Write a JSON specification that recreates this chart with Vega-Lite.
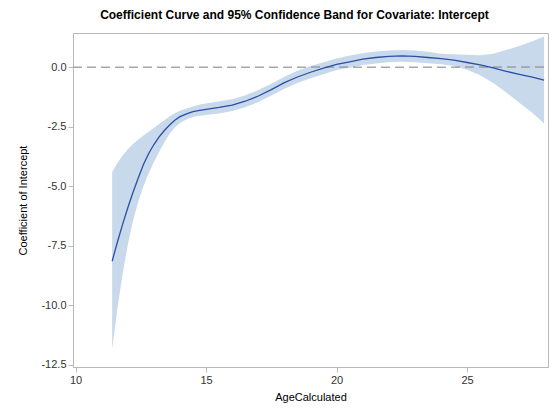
{
  "$schema": "https://vega.github.io/schema/vega-lite/v6.json",
  "width": 475,
  "height": 334,
  "autosize": {"type": "none"},
  "padding": {"left": 73, "top": 33, "right": 5, "bottom": 48},
  "background": "white",
  "title": {
    "text": "Coefficient Curve and 95% Confidence Band for Covariate: Intercept",
    "font": "Liberation Sans",
    "fontSize": 12,
    "fontWeight": "bold",
    "color": "#000000",
    "anchor": "middle",
    "dx": -16,
    "offset": 11
  },
  "config": {
    "view": {"stroke": "#b8b8b8", "strokeWidth": 1},
    "font": "Liberation Sans",
    "axis": {
      "labelFont": "Liberation Sans",
      "titleFont": "Liberation Sans",
      "labelFontSize": 11,
      "titleFontSize": 11,
      "labelColor": "#333333",
      "titleColor": "#000000",
      "titleFontWeight": "normal",
      "domainColor": "#b8b8b8",
      "tickColor": "#b8b8b8",
      "tickSize": 5,
      "grid": false
    }
  },
  "data": {
    "values": [
      {"age": 11.40, "est": -8.15, "lo": -11.85, "hi": -4.40},
      {"age": 11.60, "est": -7.35, "lo": -10.15, "hi": -4.02},
      {"age": 11.80, "est": -6.60, "lo": -8.70, "hi": -3.70},
      {"age": 12.00, "est": -5.90, "lo": -7.45, "hi": -3.44},
      {"age": 12.20, "est": -5.25, "lo": -6.45, "hi": -3.22},
      {"age": 12.40, "est": -4.65, "lo": -5.65, "hi": -3.03},
      {"age": 12.60, "est": -4.08, "lo": -5.00, "hi": -2.86},
      {"age": 12.80, "est": -3.62, "lo": -4.45, "hi": -2.70},
      {"age": 13.00, "est": -3.24, "lo": -3.98, "hi": -2.55},
      {"age": 13.20, "est": -2.92, "lo": -3.55, "hi": -2.38},
      {"age": 13.40, "est": -2.65, "lo": -3.15, "hi": -2.22},
      {"age": 13.60, "est": -2.42, "lo": -2.80, "hi": -2.05},
      {"age": 13.80, "est": -2.22, "lo": -2.52, "hi": -1.92},
      {"age": 14.00, "est": -2.07, "lo": -2.33, "hi": -1.82},
      {"age": 14.25, "est": -1.95, "lo": -2.18, "hi": -1.72},
      {"age": 14.50, "est": -1.86, "lo": -2.08, "hi": -1.64},
      {"age": 14.75, "est": -1.80, "lo": -2.03, "hi": -1.56},
      {"age": 15.00, "est": -1.76, "lo": -2.00, "hi": -1.51},
      {"age": 15.50, "est": -1.68, "lo": -1.94, "hi": -1.42},
      {"age": 16.00, "est": -1.58, "lo": -1.83, "hi": -1.34},
      {"age": 16.50, "est": -1.42, "lo": -1.67, "hi": -1.17},
      {"age": 17.00, "est": -1.20, "lo": -1.45, "hi": -0.95},
      {"age": 17.50, "est": -0.93, "lo": -1.18, "hi": -0.68},
      {"age": 18.00, "est": -0.64, "lo": -0.89, "hi": -0.39},
      {"age": 18.50, "est": -0.40, "lo": -0.65, "hi": -0.14},
      {"age": 19.00, "est": -0.20, "lo": -0.45, "hi": 0.06},
      {"age": 19.50, "est": -0.03, "lo": -0.28, "hi": 0.22},
      {"age": 20.00, "est": 0.13, "lo": -0.11, "hi": 0.38},
      {"age": 20.50, "est": 0.24, "lo": -0.01, "hi": 0.50},
      {"age": 21.00, "est": 0.35, "lo": 0.10, "hi": 0.60},
      {"age": 21.50, "est": 0.42, "lo": 0.17, "hi": 0.67},
      {"age": 22.00, "est": 0.47, "lo": 0.22, "hi": 0.72},
      {"age": 22.50, "est": 0.49, "lo": 0.24, "hi": 0.74},
      {"age": 23.00, "est": 0.47, "lo": 0.22, "hi": 0.72},
      {"age": 23.50, "est": 0.42, "lo": 0.18, "hi": 0.66},
      {"age": 24.00, "est": 0.37, "lo": 0.14, "hi": 0.58},
      {"age": 24.50, "est": 0.31, "lo": 0.06, "hi": 0.56},
      {"age": 25.00, "est": 0.21, "lo": -0.10, "hi": 0.54},
      {"age": 25.50, "est": 0.11, "lo": -0.33, "hi": 0.52},
      {"age": 26.00, "est": -0.02, "lo": -0.65, "hi": 0.58},
      {"age": 26.50, "est": -0.16, "lo": -1.05, "hi": 0.74},
      {"age": 27.00, "est": -0.29, "lo": -1.48, "hi": 0.90},
      {"age": 27.50, "est": -0.41, "lo": -1.90, "hi": 1.10},
      {"age": 27.95, "est": -0.53, "lo": -2.36, "hi": 1.30}
    ]
  },
  "encoding": {
    "x": {
      "field": "age",
      "type": "quantitative",
      "title": "AgeCalculated",
      "scale": {"domain": [9.9, 28.1], "nice": false, "zero": false},
      "axis": {"values": [10, 15, 20, 25], "titlePadding": 6}
    }
  },
  "layer": [
    {
      "mark": {"type": "area", "color": "#c9d9ec", "opacity": 1},
      "encoding": {
        "y": {
          "field": "lo",
          "type": "quantitative",
          "title": "Coefficient of Intercept",
          "scale": {"domain": [-12.6, 1.451], "nice": false, "zero": false},
          "axis": {"values": [0, -2.5, -5, -7.5, -10, -12.5], "format": ".1f", "labelExpr": "replace(datum.label, '\u2212', '-')", "titlePadding": 12}
        },
        "y2": {"field": "hi"}
      }
    },
    {
      "mark": {"type": "rule", "color": "#a8a8a8", "strokeDash": [9, 5], "strokeWidth": 1},
      "encoding": {"y": {"datum": 0, "type": "quantitative"}, "x": {"value": 0}, "x2": {"value": 475}}
    },
    {
      "mark": {"type": "line", "color": "#2b4ea6", "strokeWidth": 1.3},
      "encoding": {"y": {"field": "est", "type": "quantitative"}}
    }
  ]
}
